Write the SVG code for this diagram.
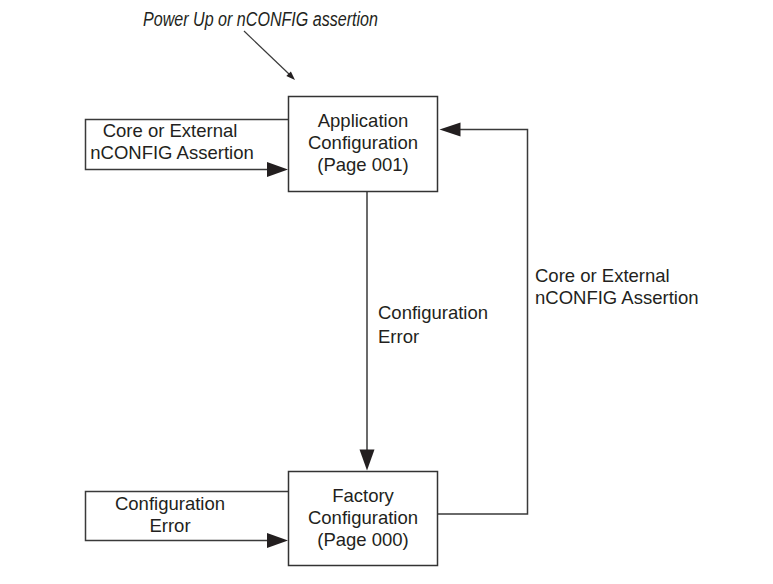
<svg xmlns="http://www.w3.org/2000/svg" width="773" height="584" viewBox="0 0 773 584">
<style>
  text { font-family: "Liberation Sans", Arial, sans-serif; font-size: 18.5px; fill: #231f20; }
  .it { font-style: italic; font-size: 19.5px; }
  .mid { text-anchor: middle; }
  .box { fill: #fff; stroke: #333; stroke-width: 1.5; }
  .ln { fill: none; stroke: #3a3a3a; stroke-width: 1.5; }
  .ah { fill: #231f20; stroke: none; }
</style>
<rect width="773" height="584" fill="#fff"/>
<g id="connectors">
  <path class="ln" d="M288.5,119.5 H85.5 V169.5 H268"/>
  <polygon class="ah" points="288,169.5 267,162 267,177"/>
  <path class="ln" d="M288.5,491.5 H85.5 V540.5 H268"/>
  <polygon class="ah" points="288,540.5 267,533 267,548"/>
  <path class="ln" d="M367,192 V450"/>
  <polygon class="ah" points="367,470.5 359.5,449.5 374.5,449.5"/>
  <path class="ln" d="M437.5,514 H527.5 V129.5 H460"/>
  <polygon class="ah" points="439.5,129.5 460.5,122.5 460.5,136.5"/>
  <line x1="244" y1="31" x2="289" y2="74" stroke="#3a3a3a" stroke-width="1.2"/>
  <polygon class="ah" points="295,80 286.3,76 290.9,71.4"/>
</g>
<g id="start-label">
  <text class="it" x="143" y="26" textLength="235" lengthAdjust="spacingAndGlyphs">Power Up or nCONFIG assertion</text>
</g>
<g id="app-config">
  <rect class="box" x="288.5" y="96.5" width="149" height="95"/>
  <text class="mid" x="363" y="127">Application</text>
  <text class="mid" x="363" y="149">Configuration</text>
  <text class="mid" x="363" y="171">(Page 001)</text>
</g>
<g id="factory-config">
  <rect class="box" x="288.5" y="471.5" width="149" height="94"/>
  <text class="mid" x="363" y="502">Factory</text>
  <text class="mid" x="363" y="524">Configuration</text>
  <text class="mid" x="363" y="546">(Page 000)</text>
</g>
<g id="labels">
  <text class="mid" x="170" y="136.7">Core or External</text>
  <text class="mid" x="172" y="159.3">nCONFIG Assertion</text>
  <text class="mid" x="170" y="510">Configuration</text>
  <text class="mid" x="170" y="531.7">Error</text>
  <text x="378" y="319.3">Configuration</text>
  <text x="378" y="342.5">Error</text>
  <text x="535" y="282.3">Core or External</text>
  <text x="535" y="304">nCONFIG Assertion</text>
</g>
</svg>
